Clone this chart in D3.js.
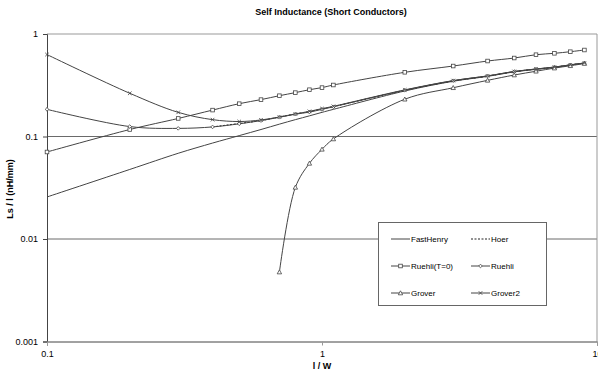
<!DOCTYPE html>
<html>
<head>
<meta charset="utf-8">
<script src="https://cdn.jsdelivr.net/npm/d3@7"></script>
<style>
  body { margin: 0; background: #fff; }
  text { font-family: "Liberation Sans", Arial, sans-serif; fill: #000; }
</style>
</head>
<body>
<div id="chart"></div>
<script>
// l / W sample points
const lw = [0.1, 0.2, 0.3, 0.4, 0.5, 0.6, 0.7, 0.8, 0.9, 1.0, 1.1, 2, 3, 4, 5, 6, 7, 8, 9];

const fastHenry = [0.0257, 0.0477, 0.0686, 0.0863, 0.102, 0.117, 0.132, 0.146, 0.159, 0.172, 0.184, 0.278, 0.346, 0.386, 0.427, 0.452, 0.472, 0.498, 0.519];
const hoer = [null, null, null, 0.124, 0.134, 0.143, 0.155, 0.166, 0.175, 0.186, 0.196, 0.282, 0.348, 0.388, 0.429, 0.454, 0.474, 0.5, 0.521];
const ruehliT0 = [0.0706, 0.117, 0.150, 0.181, 0.209, 0.229, 0.25, 0.268, 0.286, 0.30, 0.318, 0.423, 0.487, 0.545, 0.583, 0.628, 0.648, 0.672, 0.698];
const ruehli = [0.184, 0.125, 0.12, 0.124, 0.133, 0.143, 0.154, 0.165, 0.173, 0.184, 0.195, 0.283, 0.35, 0.39, 0.43, 0.455, 0.475, 0.5, 0.52];
const grover = [null, null, null, null, null, null, 0.00476, 0.0319, 0.0547, 0.075, 0.0946, 0.231, 0.299, 0.353, 0.398, 0.433, 0.465, 0.49, 0.515];
const grover2 = [0.63, 0.264, 0.172, 0.146, 0.14, 0.145, 0.155, 0.166, 0.176, 0.187, 0.197, 0.285, 0.351, 0.39, 0.431, 0.456, 0.476, 0.5, 0.522];

const xTicks = [0.1, 1, 10];
const yTicks = [0.001, 0.01, 0.1, 1];

const series = [
    { name: "FastHenry", values: fastHenry, marker: null, dash: null },
    { name: "Hoer", values: hoer, marker: null, dash: "2,1.5" },
    { name: "Ruehli(T=0)", values: ruehliT0, marker: "square", dash: null },
    { name: "Ruehli", values: ruehli, marker: "diamond", dash: null },
    { name: "Grover", values: grover, marker: "triangle", dash: null },
    { name: "Grover2", values: grover2, marker: "cross", dash: null }
];

const W = 598, H = 379;
const plot = { left: 47, right: 597, top: 34, bottom: 341.5 };
const lineColor = "#444";

const svg = d3.select("#chart").append("svg")
    .attr("width", W)
    .attr("height", H);

const x = d3.scaleLog().domain([0.1, 10]).range([plot.left, plot.right]);
const y = d3.scaleLog().domain([0.001, 1]).range([plot.bottom, plot.top]);

// Title
svg.append("text")
    .attr("x", 331).attr("y", 15)
    .attr("text-anchor", "middle")
    .style("font-size", "9px").style("font-weight", "bold")
    .text("Self Inductance (Short Conductors)");

// Gridlines
svg.append("g").selectAll("line")
    .data(yTicks.filter(d => d > 0.001 && d < 1))
    .join("line")
    .attr("x1", plot.left).attr("x2", plot.right)
    .attr("y1", d => y(d)).attr("y2", d => y(d))
    .attr("stroke", "#6a6a6a").attr("stroke-width", 1);

// Plot border (top, right)
svg.append("path")
    .attr("d", `M${plot.left},${plot.top}H${plot.right}V${plot.bottom}`)
    .attr("fill", "none").attr("stroke", "#999").attr("stroke-width", 1);

// Axes
const yAxis = d3.axisLeft(y).tickValues(yTicks).tickSize(4).tickFormat(d => String(d));
svg.append("g")
    .attr("transform", `translate(${plot.left},0)`)
    .call(yAxis)
    .call(g => g.select(".domain").attr("stroke", "#444"))
    .call(g => g.selectAll(".tick line").attr("stroke", "#444"))
    .call(g => g.selectAll("text").style("font-size", "9px").style("font-family", "Liberation Sans, Arial").attr("fill", "#222").attr("dx", "-2"));

const xAxis = d3.axisBottom(x).tickValues(xTicks).tickSize(4).tickFormat(d => String(d));
svg.append("g")
    .attr("transform", `translate(0,${plot.bottom})`)
    .call(xAxis)
    .call(g => g.select(".domain").attr("stroke", "#444"))
    .call(g => g.selectAll(".tick line").attr("stroke", "#999"))
    .call(g => g.selectAll("text").style("font-size", "9px").style("font-family", "Liberation Sans, Arial").attr("fill", "#222").attr("dy", "0.9em"));

// Axis titles
svg.append("text")
    .attr("x", 322).attr("y", 369)
    .attr("text-anchor", "middle")
    .style("font-size", "9px").style("font-weight", "bold")
    .text("l / W");

svg.append("text")
    .attr("transform", "translate(13,189) rotate(-90)")
    .attr("text-anchor", "middle")
    .style("font-size", "9px").style("font-weight", "bold")
    .text("Ls / l (nH/mm)");

function drawMarker(g, type, cx, cy) {
    if (type === "square") {
        g.append("rect").attr("x", cx - 1.8).attr("y", cy - 1.8).attr("width", 3.6).attr("height", 3.6)
            .attr("fill", "#fff").attr("stroke", lineColor).attr("stroke-width", 0.8);
    } else if (type === "diamond") {
        g.append("path").attr("d", `M${cx},${cy - 1.8}L${cx + 1.8},${cy}L${cx},${cy + 1.8}L${cx - 1.8},${cy}Z`)
            .attr("fill", "#fff").attr("stroke", lineColor).attr("stroke-width", 0.8);
    } else if (type === "triangle") {
        g.append("path").attr("d", `M${cx},${cy - 2.2}L${cx + 2.2},${cy + 1.8}L${cx - 2.2},${cy + 1.8}Z`)
            .attr("fill", "#fff").attr("stroke", lineColor).attr("stroke-width", 0.8);
    } else if (type === "cross") {
        g.append("path").attr("d", `M${cx - 1.8},${cy - 1.8}L${cx + 1.8},${cy + 1.8}M${cx - 1.8},${cy + 1.8}L${cx + 1.8},${cy - 1.8}`)
            .attr("fill", "none").attr("stroke", lineColor).attr("stroke-width", 0.8);
    }
}

// Series lines
const line = d3.line()
    .defined(d => d.v != null)
    .x(d => x(d.l))
    .y(d => y(d.v))
    .curve(d3.curveCatmullRom.alpha(0.5));

const seriesG = svg.append("g");
series.forEach(s => {
    const pts = lw.map((l, i) => ({ l: l, v: s.values[i] }));
    seriesG.append("path")
        .datum(pts)
        .attr("d", line)
        .attr("fill", "none")
        .attr("stroke", s.dash ? "#222" : lineColor)
        .attr("stroke-width", 1)
        .attr("stroke-dasharray", s.dash);
});
series.forEach(s => {
    if (!s.marker) return;
    const mg = seriesG.append("g");
    lw.forEach((l, i) => {
        if (s.values[i] != null) drawMarker(mg, s.marker, x(l), y(s.values[i]));
    });
});

// Legend
const legend = svg.append("g");
legend.append("rect")
    .attr("x", 378.5).attr("y", 222.5).attr("width", 168).attr("height", 83)
    .attr("fill", "#fff").attr("stroke", "#666").attr("stroke-width", 1);

series.forEach((s, i) => {
    const col = i % 2, row = Math.floor(i / 2);
    const lx = col === 0 ? 391 : 471;
    const ly = 239 + row * 27;
    legend.append("line")
        .attr("x1", lx).attr("x2", lx + 19)
        .attr("y1", ly).attr("y2", ly)
        .attr("stroke", s.dash ? "#222" : lineColor)
        .attr("stroke-width", 1)
        .attr("stroke-dasharray", s.dash);
    if (s.marker) drawMarker(legend, s.marker, lx + 9.5, ly);
    legend.append("text")
        .attr("x", lx + 20).attr("y", ly + 3)
        .style("font-size", "8px")
        .attr("fill", "#222")
        .text(s.name);
});
</script>
</body>
</html>
